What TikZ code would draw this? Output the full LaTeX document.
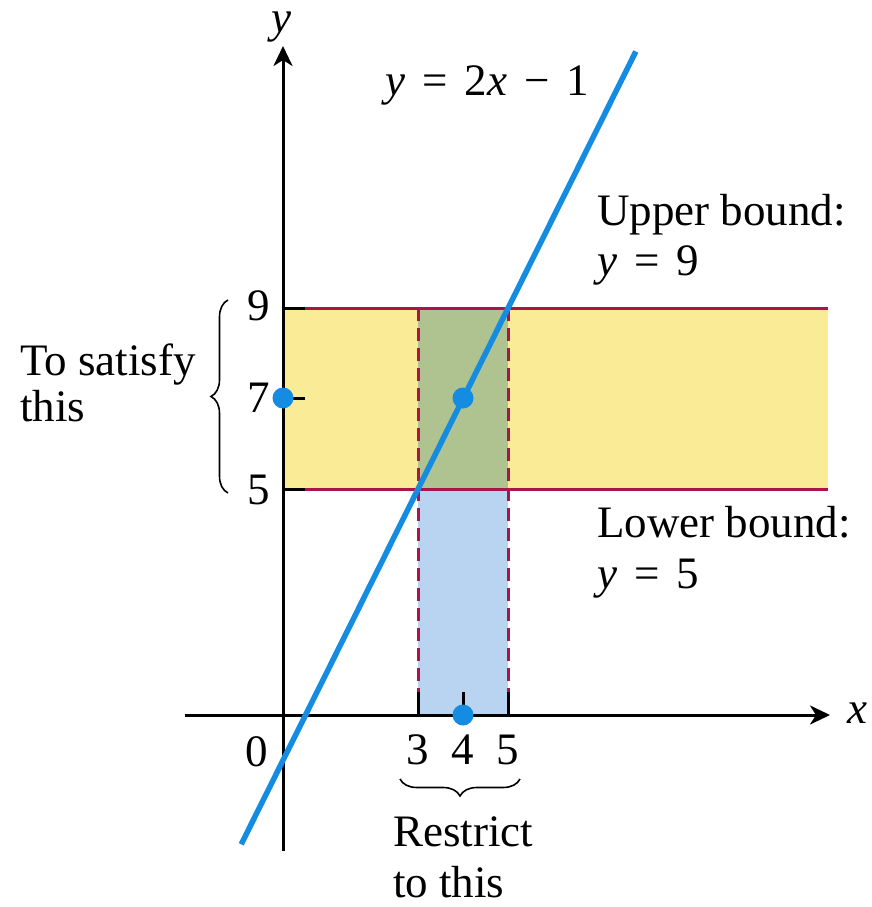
\documentclass[tikz,border=0pt]{standalone}
\usepackage{fontspec}
\setmainfont{Liberation Serif}
\usetikzlibrary{arrows.meta,decorations.pathreplacing}
\definecolor{bandyellow}{RGB}{250,235,150}
\definecolor{bandgreen}{RGB}{175,195,145}
\definecolor{bandblue}{RGB}{185,212,240}
\definecolor{linblue}{RGB}{20,140,225}
\definecolor{boundmag}{RGB}{170,20,75}
\newcommand\gp{\hspace{0.38em}}
\begin{document}
\begin{tikzpicture}[x=1pt,y=-1pt,
  font=\fontsize{45}{54}\selectfont,
  lbl/.style={inner sep=0pt},
  axis/.style={line width=3pt,-{Stealth[length=20pt,width=19pt,inset=6pt]}},
  tick/.style={line width=3pt},
  bound/.style={line width=3pt,draw=boundmag},
  dashv/.style={line width=3pt,draw=boundmag,dash pattern=on 13pt off 7pt},
  dot/.style={circle,fill=linblue,inner sep=0pt,minimum size=21pt},
  bracestyle/.style={line width=1.6pt,decorate,decoration={brace,amplitude=17pt}}]
\useasboundingbox (0,0) rectangle (871,907);
% key coordinates
\coordinate (O) at (283,715);
\coordinate (y9L) at (283,308); \coordinate (y9R) at (828,308);
\coordinate (y5L) at (283,489); \coordinate (y5R) at (828,489);
\coordinate (a3) at (418,308); \coordinate (b3) at (418,692); \coordinate (c3) at (418,715);
\coordinate (a5) at (508,308); \coordinate (b5) at (508,692); \coordinate (c5) at (508,715);
% regions
\fill[bandyellow] (y9L) rectangle (y5R);
\fill[bandgreen] (a3) rectangle (508,489);
\fill[bandblue] (418,489) rectangle (c5);
% bounds
\draw[bound] (y9L) -- (y9R);
\draw[bound] (y5L) -- (y5R);
\draw[dashv] (a3) -- (b3);
\draw[dashv] (a5) -- (b5);
% axes
\coordinate (xs) at (185,715); \coordinate (xe) at (830,715);
\coordinate (ys) at (283,851); \coordinate (ye) at (283,46);
\draw[axis] (xs) -- (xe);
\draw[axis] (ys) -- (ye);
% ticks
\draw[tick] (y9L) -- (305,308);
\draw[tick] (283,398) -- (305,398);
\draw[tick] (y5L) -- (305,489);
\draw[tick] (c3) -- (b3);
\draw[tick] (c5) -- (b5);
\draw[tick] (463,715) -- (463,692);
% line y = 2x - 1
\coordinate (ls) at (241.2,844.3); \coordinate (le) at (635.8,51.5);
\draw[line width=5.5pt,linblue] (ls) -- (le);
% dots
\node[dot] (d1) at (283,398) {};
\node[dot] (d2) at (463,398) {};
\node[dot] (d3) at (463,715) {};
% labels
\node[lbl] (ylab) at (281,27) {\textit{y}};
\node[lbl] (xlab) at (857,713) {\textit{x}};
\node[lbl,anchor=base west] (eq) at (385,95) {\textit{y}\gp=\gp2\textit{x}\gp−\gp1};
\node[lbl,anchor=east] (n9) at (270,306) {9};
\node[lbl,anchor=east] (n7) at (270,398) {7};
\node[lbl,anchor=east] (n5) at (270,490) {5};
\node[lbl] (n0) at (257,752) {0};
\node[lbl] (n3) at (418,750) {3};
\node[lbl] (n4) at (463,750) {4};
\node[lbl] (n5x) at (508,750) {5};
\node[lbl,anchor=base west] (ub1) at (597,225) {Upper bound:};
\node[lbl,anchor=base west] (ub2) at (597,275) {\textit{y}\gp=\gp9};
\node[lbl,anchor=base west] (lb1) at (597,537) {Lower bound:};
\node[lbl,anchor=base west] (lb2) at (597,588) {\textit{y}\gp=\gp5};
\node[lbl,anchor=base west] (ts1) at (20,375) {To satisfy};
\node[lbl,anchor=base west] (ts2) at (20,421) {this};
\node[lbl,anchor=base west] (rt1) at (393,846) {Restrict};
\node[lbl,anchor=base west] (rt2) at (393,897) {to this};
% braces
\coordinate (lbA) at (228,493); \coordinate (lbB) at (228,300);
\draw[bracestyle] (lbA) -- (lbB);
\coordinate (bbA) at (520,779); \coordinate (bbB) at (400,779);
\draw[bracestyle] (bbA) -- (bbB);
\end{tikzpicture}
\end{document}
